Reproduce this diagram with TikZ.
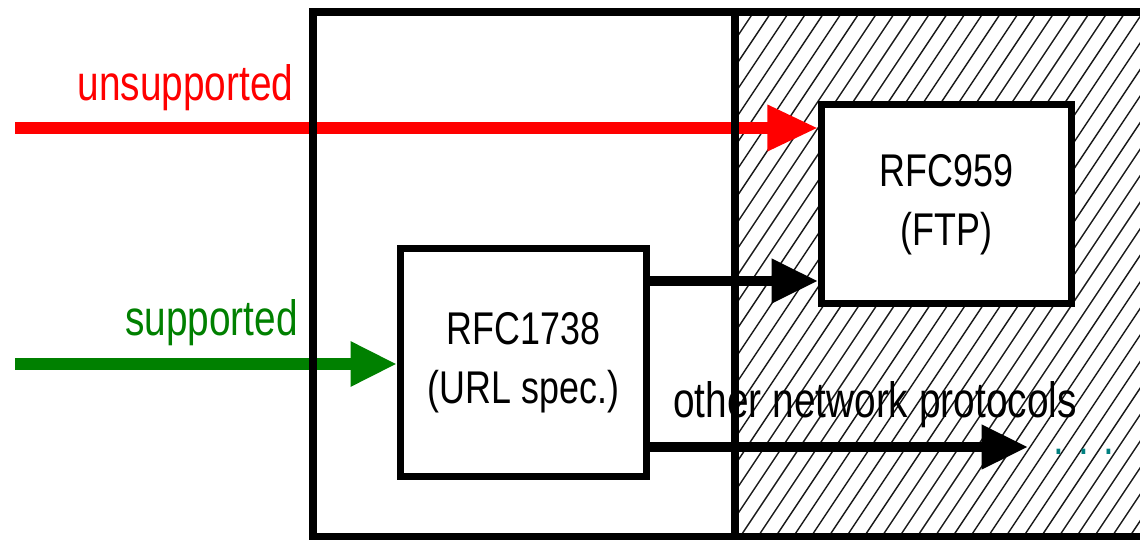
\documentclass[tikz,border=0pt]{standalone}
\usepackage{fontspec}
\setmainfont{Liberation Sans}
\usetikzlibrary{arrows.meta}
\definecolor{darkgreen}{RGB}{0,128,0}
\definecolor{dotteal}{RGB}{0,128,128}
\newcommand{\tall}[1]{\scalebox{1}[1.28]{#1}}
\tikzset{
  rfcbox/.style={draw, line width=5pt, fill=white, inner sep=0pt, align=center,
    font=\fontsize{25.5}{32.6}\selectfont},
  flow/.style={line width=7.2pt, -{Triangle[length=33pt,width=30pt]}},
  lbl/.style={anchor=base, inner sep=0pt, font=\fontsize{27.6}{33}\selectfont},
  hatch/.style={line width=1pt, black!90},
  frame/.style={line width=5pt}
}
\begin{document}
\begin{tikzpicture}[x=0.025cm, y=-0.025cm]
      \useasboundingbox (0,0) rectangle (1140,540);
      \coordinate (redstart) at (15,128);
      \coordinate (greenstart) at (15,364);
      \coordinate (midrow) at (700,281);
      \coordinate (otherend) at (1028,447);
      % hatched part of the frame
      \begin{scope}
        \clip (735,12) rectangle (1140,540);
        \foreach \hx in {366.3,384.0,...,1140} \draw[hatch] (\hx,540) -- ++(360,-540);
      \end{scope}
      \node[rfcbox, minimum width=6.15cm, minimum height=5.7cm] (url) at (523.5,362.5)
        {\tall{\begin{tabular}{@{}c@{}}RFC1738\\(URL spec.)\end{tabular}}};
      \node[rfcbox, minimum width=6.25cm, minimum height=4.975cm] (ftp) at (946.5,204)
        {\tall{\begin{tabular}{@{}c@{}}RFC959\\(FTP)\end{tabular}}};
      \draw[flow, red, line width=8pt, -{Triangle[length=36pt,width=31pt]}] (redstart) -- (redstart -| ftp.west);
      \draw[flow, darkgreen, line width=8pt] (greenstart) -- (greenstart -| url.west);
      \draw[flow] (midrow -| url.east) -- (midrow -| ftp.west);
      \draw[flow] (otherend -| url.east) -- (otherend);
      % frame on top of the arrows
      \draw[frame] (313,12) rectangle (1170,537);
      \draw[frame] (735,12) -- (735,537);
      \node[lbl, red] (unsup) at (185.5,100) {\tall{unsupported}};
      \node[lbl, darkgreen] (sup) at (211.5,335) {\tall{supported}};
      \node[lbl] (other) at (875,417) {\tall{other network protocols}};
      \node[lbl, dotteal] (more) at (1084,454) {\tall{. . .}};
    \end{tikzpicture}
\end{document}
